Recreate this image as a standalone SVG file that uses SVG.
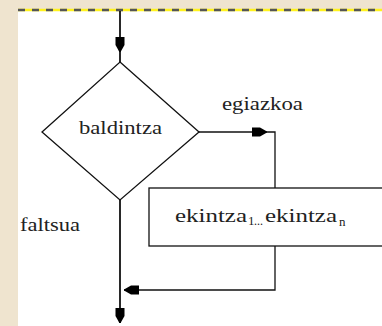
<svg xmlns="http://www.w3.org/2000/svg" width="382" height="326" viewBox="0 0 382 326">
<style>
.ln{fill:none;stroke:#111;stroke-width:1.3}
.main{fill:none;stroke:#111;stroke-width:1.8}
text{font-family:"Times New Roman","Liberation Serif","DejaVu Serif",serif;fill:#222}
.tx{font-size:18px}
.sub{font-size:13px}
</style>
<defs>
<marker id="ah" markerUnits="userSpaceOnUse" markerWidth="18" markerHeight="12" viewBox="-16 -6 17 12" refX="0" refY="0" orient="auto">
<path d="M-15,-4.5 L-7,-4.5 L0,-0.6 L0,0.6 L-7,4.5 L-15,4.5 Z" fill="#000"/>
</marker>
</defs>
<rect x="0" y="0" width="382" height="326" fill="#EFE4CF"/>
<rect x="18" y="9" width="364" height="317" fill="#FFFFFF"/>
<line x1="18" y1="10" x2="382" y2="10" stroke="#FFF21E" stroke-width="2.5"/>
<line x1="18" y1="10" x2="382" y2="10" stroke="#555" stroke-width="2.5" stroke-dasharray="7 7"/>
<g id="connectors">
<path class="main" d="M120,11 V52" marker-end="url(#ah)"/>
<path class="main" d="M120,52 V62"/>
<path class="ln" d="M199,132 H267" marker-end="url(#ah)"/>
<path class="ln" d="M267,132 H275 V188"/>
<path class="ln" d="M275,246 V290 H124" marker-end="url(#ah)"/>
<path class="main" d="M120,200 V323" marker-end="url(#ah)"/>
</g>
<g id="decision">
<polygon class="ln" points="120,62 199,132 120,200 42,132"/>
<text class="tx" x="79" y="134" textLength="83" lengthAdjust="spacingAndGlyphs">baldintza</text>
</g>
<g id="label-true">
<text class="tx" x="222" y="110" textLength="81" lengthAdjust="spacingAndGlyphs">egiazkoa</text>
</g>
<g id="label-false">
<text class="tx" x="20" y="231" textLength="60" lengthAdjust="spacingAndGlyphs">faltsua</text>
</g>
<g id="action">
<rect class="ln" x="149" y="188" width="240" height="58" fill="#fff"/>
<text class="tx" x="175" y="222" textLength="72" lengthAdjust="spacingAndGlyphs">ekintza</text>
<text class="sub" x="248" y="225">1</text>
<text class="sub" x="254" y="225" textLength="9" lengthAdjust="spacingAndGlyphs">...</text>
<text class="tx" x="265" y="222" textLength="72" lengthAdjust="spacingAndGlyphs">ekintza</text>
<text class="sub" x="339" y="226">n</text>
</g>
</svg>
